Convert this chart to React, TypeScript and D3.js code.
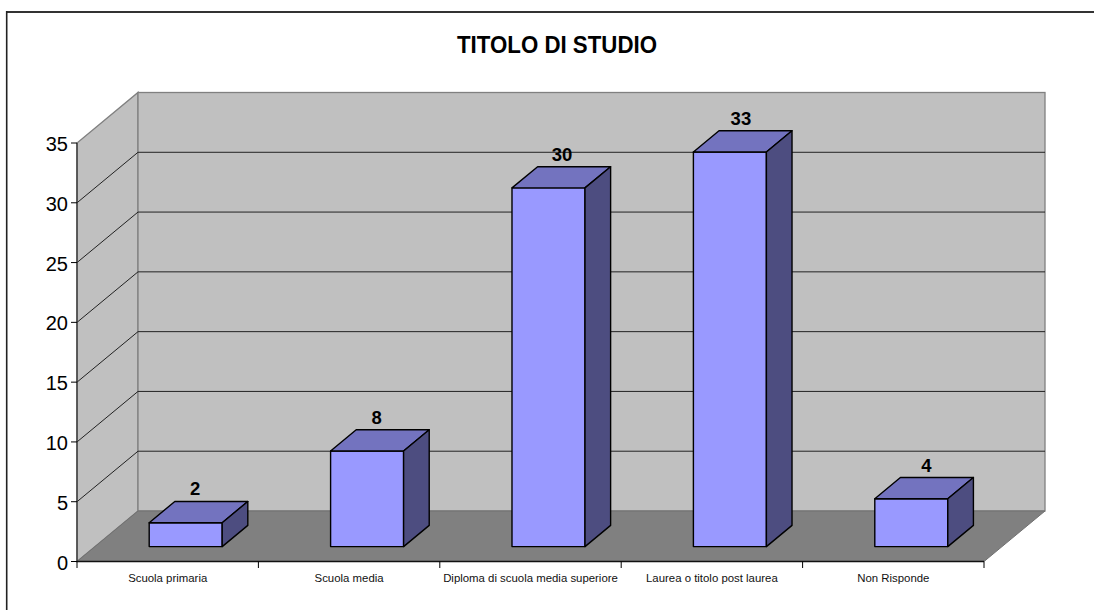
import React from "react";
import * as d3 from "d3";

// Survey responses by education level
const categories = [
  "Scuola primaria",
  "Scuola media",
  "Diploma di scuola media superiore",
  "Laurea o titolo post laurea",
  "Non Risponde",
];
const counts = [2, 8, 30, 33, 4];
const yTicks = [0, 5, 10, 15, 20, 25, 30, 35];
const chartTitle = "TITOLO DI STUDIO";

const FONT = "'Liberation Sans', Arial, sans-serif";
const W = 1094;
const H = 610;

// Oblique projection of the plot box
const left = 77;
const right = 984;
const floorY = 561.5;
const topY = 143;
const depthX = 61;
const depthY = -50.5;

// Each bar stands part way into the depth of the floor
const barDepthShift = 0.295;
const barDepth = 0.42;
const barWidth = 73;

// Small horizontal nudges of the value labels, in the order of the categories
const labelNudges = [9.5, 9.5, 13.5, 11, 15];

const band = d3.scaleBand<string>().domain(categories).range([left, right]);
const y = d3.scaleLinear().domain([0, 35]).range([floorY, topY]);

const poly = (pts: [number, number][]) => d3.line()(pts) + "Z";

export default function App() {
  return (
    <svg
      width={W}
      height={H}
      style={{ position: "absolute", left: 0, top: 0, background: "#fff" }}
      fontFamily={FONT}
    >
      {/* Frame: only the top and left edges fall inside the page */}
      <line x1={6} x2={W} y1={12} y2={12} stroke="#333" strokeWidth={2} />
      <line x1={6.7} x2={6.7} y1={11} y2={H} stroke="#222" strokeWidth={1.6} />

      <text
        x={557}
        y={53}
        textAnchor="middle"
        fontSize={23}
        fontWeight="bold"
        fill="#000"
        textLength={200}
        lengthAdjust="spacingAndGlyphs"
      >
        {chartTitle}
      </text>

      {/* Walls and floor */}
      <path
        d={poly([[left, floorY], [left + depthX, floorY + depthY], [left + depthX, topY + depthY], [left, topY]])}
        fill="#c0c0c0"
        stroke="#808080"
        strokeWidth={1.3}
      />
      <rect
        x={left + depthX}
        y={topY + depthY}
        width={right - left}
        height={floorY - topY}
        fill="#c0c0c0"
        stroke="#808080"
        strokeWidth={1.3}
      />
      <path
        d={poly([[left, floorY], [right, floorY], [right + depthX, floorY + depthY], [left + depthX, floorY + depthY]])}
        fill="#808080"
        stroke="#707070"
      />

      {/* Gridlines on the two walls */}
      {yTicks.filter((t) => t > 0 && t < 35).map((t) => (
        <path
          key={t}
          d={d3.line()([[left, y(t)], [left + depthX, y(t) + depthY], [right + depthX, y(t) + depthY]])!}
          fill="none"
          stroke="#222"
          strokeWidth={1}
        />
      ))}

      {/* Axis lines and ticks */}
      <line x1={left} x2={left} y1={topY} y2={floorY} stroke="#333" strokeWidth={1.3} />
      <line x1={left} x2={right} y1={floorY} y2={floorY} stroke="#111" strokeWidth={1.4} />
      {yTicks.map((t) => (
        <g key={t}>
          <line x1={left - 6} x2={left} y1={y(t)} y2={y(t)} stroke="#000" />
          <text x={left - 9} y={y(t) + 8} textAnchor="end" fontSize={20} fill="#000">
            {t}
          </text>
        </g>
      ))}
      {[...categories.map((c) => band(c)!), right].map((px) => (
        <line key={px} x1={px} x2={px} y1={floorY} y2={floorY + 6.5} stroke="#000" />
      ))}
      {categories.map((c) => (
        <text
          key={c}
          x={band(c)! + band.bandwidth() / 2}
          y={582}
          textAnchor="middle"
          fontSize={11.4}
          fill="#111"
        >
          {c}
        </text>
      ))}

      {/* Bars with a value label above the top face */}
      {categories.map((c, i) => {
        const v = counts[i];
        const x0 = band(c)! + (band.bandwidth() - barWidth) / 2 + depthX * barDepthShift;
        const x1 = x0 + barWidth;
        const shiftY = depthY * barDepthShift;
        const yb = y(0) + shiftY;
        const yt = y(v) + shiftY;
        const dx = depthX * barDepth;
        const dy = depthY * barDepth;
        return (
          <g key={c} stroke="#000" strokeWidth={1.4} strokeLinejoin="round">
            <rect x={x0} y={yt} width={barWidth} height={yb - yt} fill="#9999ff" />
            <path d={poly([[x0, yt], [x1, yt], [x1 + dx, yt + dy], [x0 + dx, yt + dy]])} fill="#7373bf" />
            <path d={poly([[x1, yt], [x1 + dx, yt + dy], [x1 + dx, yb + dy], [x1, yb]])} fill="#4d4d80" />
            <text
              x={x0 + barWidth / 2 + labelNudges[i]}
              y={yt + dy - 6}
              textAnchor="middle"
              fontSize={18.5}
              fontWeight="bold"
              fill="#000"
              stroke="none"
            >
              {v}
            </text>
          </g>
        );
      })}
    </svg>
  );
}
